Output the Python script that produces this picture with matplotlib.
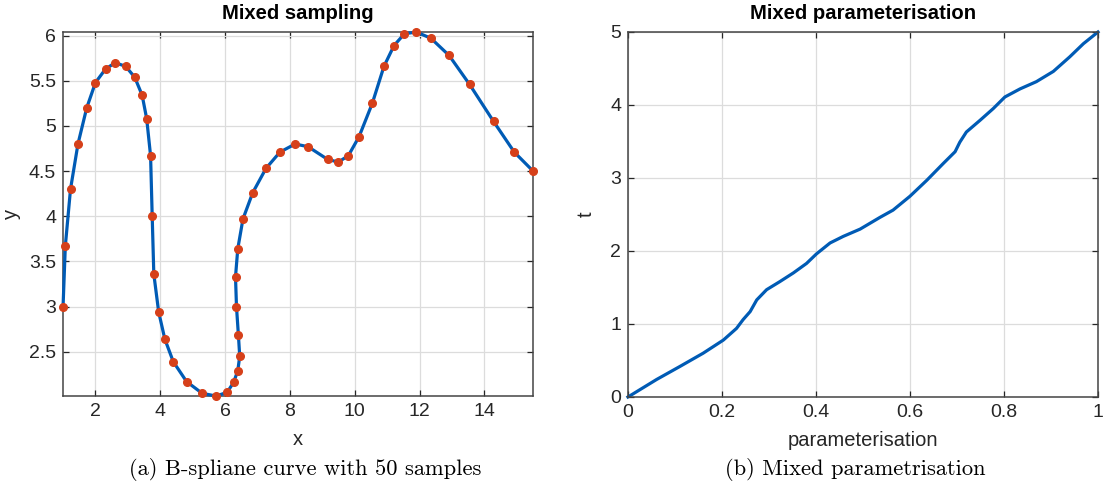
import matplotlib
matplotlib.use("Agg")
import matplotlib.pyplot as plt
from matplotlib.ticker import FuncFormatter

# (a) B-spline samples
sample_x = [1.00, 1.07, 1.23, 1.46, 1.73, 2.00, 2.31, 2.61, 2.93, 3.21,
            3.44, 3.58, 3.70, 3.75, 3.80, 3.95, 4.14, 4.40, 4.81, 5.29,
            5.72, 6.06, 6.26, 6.39, 6.45, 6.41, 6.35, 6.32, 6.39, 6.55,
            6.85, 7.26, 7.69, 8.16, 8.56, 9.16, 9.49, 9.80, 10.13, 10.54,
            10.90, 11.21, 11.53, 11.90, 12.35, 12.91, 13.54, 14.28, 14.92, 15.50]
sample_y = [3.00, 3.67, 4.30, 4.80, 5.20, 5.48, 5.63, 5.70, 5.66, 5.54,
            5.34, 5.08, 4.67, 4.00, 3.36, 2.94, 2.64, 2.39, 2.17, 2.04,
            2.01, 2.05, 2.16, 2.29, 2.45, 2.68, 3.00, 3.33, 3.64, 3.97,
            4.26, 4.53, 4.71, 4.80, 4.77, 4.63, 4.60, 4.67, 4.88, 5.25,
            5.66, 5.89, 6.02, 6.04, 5.97, 5.78, 5.46, 5.05, 4.71, 4.50]

# (b) parameterisation curve
param_u = [0.000, 0.061, 0.111, 0.160, 0.203, 0.231, 0.245, 0.260, 0.274, 0.295,
           0.323, 0.352, 0.380, 0.401, 0.430, 0.458, 0.494, 0.536, 0.564, 0.600,
           0.636, 0.671, 0.696, 0.706, 0.720, 0.749, 0.777, 0.802, 0.834, 0.869,
           0.905, 0.940, 0.969, 1.000]
param_t = [0.00, 0.24, 0.42, 0.60, 0.78, 0.94, 1.06, 1.17, 1.33, 1.47,
           1.58, 1.70, 1.83, 1.96, 2.11, 2.20, 2.30, 2.46, 2.56, 2.75,
           2.97, 3.20, 3.36, 3.49, 3.63, 3.79, 3.95, 4.11, 4.22, 4.32,
           4.46, 4.66, 4.84, 5.00]

blue = "#005bb5"
red = "#d6401a"
dark = "#262626"

plt.rcParams["font.family"] = ["Liberation Sans", "DejaVu Sans"]

fig = plt.figure(figsize=(11.12, 4.9), dpi=100)
ax1 = fig.add_axes([0.0567, 0.1918, 0.4227, 0.7429])
ax2 = fig.add_axes([0.5647, 0.1898, 0.4227, 0.7449])


def style(ax):
    ax.grid(True, color="#dcdcdc", lw=0.9)
    ax.set_axisbelow(True)
    ax.tick_params(direction="in", top=True, right=True, length=4,
                   labelsize=14, colors=dark, width=0.9, pad=5)
    for s in ax.spines.values():
        s.set_color("#444444")
        s.set_linewidth(1.1)


ax1.plot(sample_x, sample_y, color=blue, lw=2.3, zorder=3, clip_on=False)
ax1.plot(sample_x, sample_y, "o", color=red, ms=5.5, mec=red, zorder=4,
         clip_on=False)
ax1.set_xlim(min(sample_x), max(sample_x))
ax1.set_ylim(min(sample_y), max(sample_y))
ax1.set_xticks([2, 4, 6, 8, 10, 12, 14])
ax1.set_yticks([2.5, 3, 3.5, 4, 4.5, 5, 5.5, 6])
ax1.yaxis.set_major_formatter(FuncFormatter(lambda v, p: f"{v:g}"))
ax1.set_title("Mixed sampling", fontsize=14.6, fontweight="bold", pad=9.5)
ax1.set_xlabel("x", fontsize=14.5, color=dark, labelpad=7)
ax1.set_ylabel("y", fontsize=14.5, color=dark, labelpad=6)
style(ax1)

ax2.plot(param_u, param_t, color=blue, lw=2.3, clip_on=False)
ax2.set_xlim(0, 1)
ax2.set_ylim(0, 5)
ax2.set_xticks([0, 0.2, 0.4, 0.6, 0.8, 1])
ax2.set_yticks([0, 1, 2, 3, 4, 5])
ax2.xaxis.set_major_formatter(FuncFormatter(lambda v, p: f"{v:g}"))
ax2.set_title("Mixed parameterisation", fontsize=14.6, fontweight="bold", pad=9.5)
ax2.set_xlabel("parameterisation", fontsize=14.5, color=dark, labelpad=7)
ax2.set_ylabel("t", fontsize=14.5, color=dark, labelpad=10)
style(ax2)

fig.text(0.274, 0.041, "(a) B-spliane curve with 50 samples", family="cmr10",
         fontsize=16.2, ha="center", va="center")
fig.text(0.769, 0.041, "(b) Mixed parametrisation", family="cmr10",
         fontsize=16.2, ha="center", va="center")

fig.savefig("out.png", dpi=100)
